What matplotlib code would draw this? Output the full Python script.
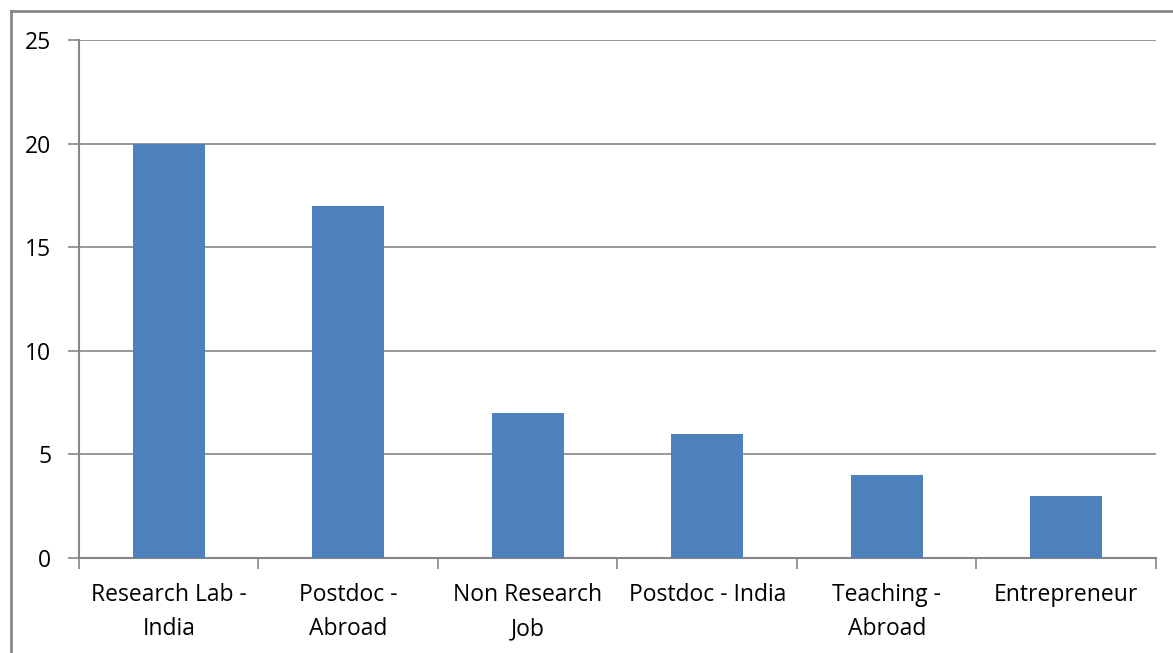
import numpy as np
import matplotlib.pyplot as plt
from matplotlib.lines import Line2D

categories = ["Research Lab -\nIndia", "Postdoc -\nAbroad", "Non Research\nJob",
              "Postdoc - India", "Teaching -\nAbroad", "Entrepreneur"]
counts = [20, 17, 7, 6, 4, 3]
yticks = [0, 5, 10, 15, 20, 25]

plt.rcParams['font.family'] = ['Open Sans', 'DejaVu Sans']

fig = plt.figure(figsize=(11.73, 6.53), dpi=100)
ax = fig.add_axes([0.0673, 0.1455, 0.9182, 0.7932])

x = np.arange(len(counts))
ax.bar(x, counts, width=0.4, color="#4F81BD", zorder=3)

ax.set_xlim(-0.5, len(counts) - 0.5)
ax.set_ylim(0, 25)
ax.set_yticks(yticks)
ax.yaxis.grid(True, color="#868686", linewidth=1.2, zorder=0)

ax.set_xticks(x)
ax.set_xticklabels(categories, fontsize=16.5, linespacing=1.55)
ax.set_xticks(np.arange(-0.5, len(counts), 1), minor=True)
ax.tick_params(axis='x', which='major', length=0, pad=18)
ax.tick_params(axis='x', which='minor', length=8, width=1.2, color="#868686")
ax.tick_params(axis='y', length=8, width=1.2, color="#868686", labelsize=16.5, pad=12)

for s in ['top', 'right']:
    ax.spines[s].set_visible(False)
for s in ['left', 'bottom']:
    ax.spines[s].set_color("#868686")
    ax.spines[s].set_linewidth(1.5)

# outer chart border (left and top only visible)
bx = 10.5 / 1173
by = 1 - 10.5 / 653
fig.add_artist(Line2D([bx, bx], [0, by], color="#888888", linewidth=2, transform=fig.transFigure))
fig.add_artist(Line2D([bx, 1], [by, by], color="#888888", linewidth=2, transform=fig.transFigure))

fig.savefig("out.png", dpi=100)
